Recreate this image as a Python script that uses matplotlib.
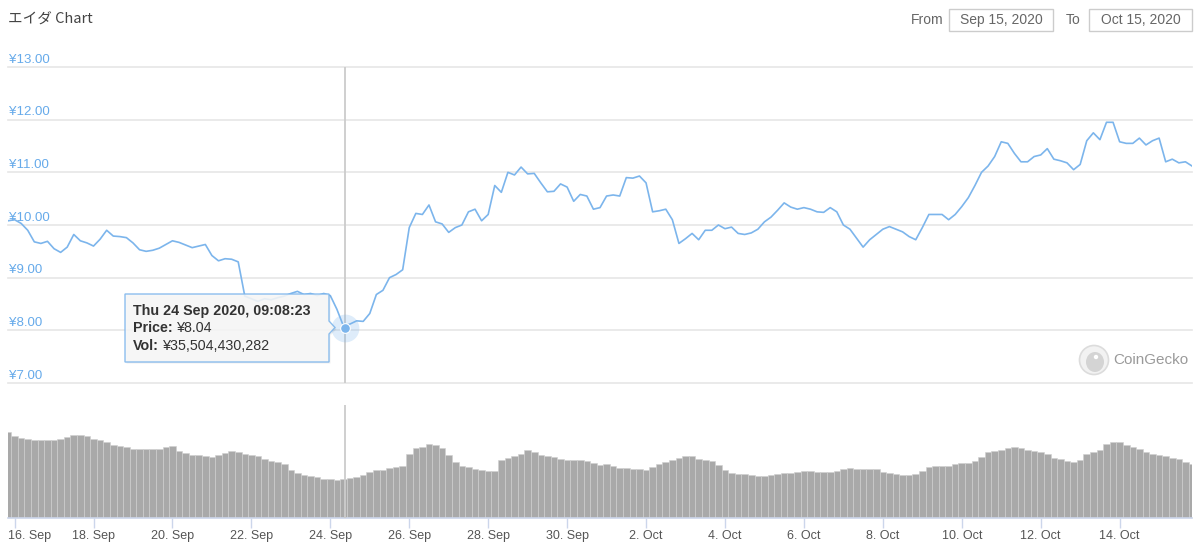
import matplotlib
matplotlib.use("Agg")
import matplotlib.pyplot as plt
import matplotlib.dates as mdates
import matplotlib.transforms as mtransforms
from matplotlib.patches import Polygon, Rectangle, Circle, Ellipse
import numpy as np
import pandas as pd

plt.rcParams['font.family'] = ['Liberation Sans', 'DejaVu Sans']

# 4-hourly samples, Sep 15 20:00 -> Oct 15 20:00
times = pd.date_range('2020-09-15 20:00', periods=181, freq='4h')

prices = [
    10.08, 10.10, 10.03, 9.90, 9.68, 9.65, 9.69, 9.55, 9.48, 9.58,
    9.82, 9.70, 9.66, 9.60, 9.73, 9.90, 9.79, 9.78, 9.76, 9.66,
    9.53, 9.50, 9.52, 9.56, 9.63, 9.70, 9.67, 9.62, 9.57, 9.60,
    9.63, 9.42, 9.32, 9.36, 9.35, 9.30, 8.65, 8.60, 8.55, 8.60,
    8.58, 8.62, 8.65, 8.70, 8.74, 8.68, 8.70, 8.66, 8.70, 8.66,
    8.40, 8.08, 8.12, 8.18, 8.17, 8.32, 8.68, 8.76, 9.00, 9.06,
    9.15, 9.95, 10.22, 10.20, 10.38, 10.06, 10.02, 9.86, 9.95, 10.00,
    10.25, 10.30, 10.08, 10.20, 10.75, 10.62, 11.00, 10.95, 11.10, 10.97,
    10.98, 10.80, 10.63, 10.64, 10.78, 10.72, 10.45, 10.58, 10.55, 10.30,
    10.33, 10.55, 10.57, 10.55, 10.90, 10.89, 10.93, 10.80, 10.25, 10.27,
    10.30, 10.10, 9.65, 9.74, 9.84, 9.72, 9.90, 9.90, 10.00, 9.93,
    9.96, 9.84, 9.82, 9.85, 9.92, 10.06, 10.15, 10.28, 10.42, 10.34,
    10.30, 10.33, 10.30, 10.25, 10.24, 10.33, 10.25, 10.00, 9.92, 9.75,
    9.58, 9.72, 9.82, 9.92, 9.97, 9.92, 9.87, 9.78, 9.72, 9.95,
    10.20, 10.20, 10.20, 10.10, 10.20, 10.35, 10.52, 10.75, 11.00, 11.12,
    11.30, 11.58, 11.55, 11.36, 11.20, 11.20, 11.30, 11.33, 11.45, 11.25,
    11.22, 11.18, 11.05, 11.15, 11.60, 11.75, 11.62, 11.95, 11.95, 11.58,
    11.55, 11.55, 11.65, 11.52, 11.60, 11.65, 11.20, 11.25, 11.18, 11.20,
    11.12,
]

# volume, billions of yen
volumes = [
    77.0, 73.5, 72.0, 71.5, 70.5, 70.5, 70.5, 70.0, 71.5, 73.0,
    75.0, 75.0, 73.5, 71.5, 70.5, 68.0, 66.0, 65.0, 63.5, 61.7,
    61.7, 61.7, 61.7, 61.7, 63.5, 64.5, 60.5, 58.5, 57.0, 56.5,
    55.5, 55.0, 56.5, 58.5, 60.0, 59.5, 58.0, 56.5, 55.5, 53.5,
    51.5, 50.0, 48.4, 43.0, 40.5, 39.0, 37.5, 36.5, 35.5, 35.0,
    34.6, 34.8, 35.8, 37.0, 38.5, 41.0, 43.5, 43.0, 45.0, 46.0,
    46.6, 57.5, 63.0, 64.3, 66.5, 66.0, 63.0, 56.5, 50.5, 47.0,
    45.5, 44.5, 43.5, 42.7, 42.0, 52.0, 54.0, 55.5, 58.0, 61.0,
    59.0, 57.0, 55.8, 55.0, 53.5, 52.1, 52.1, 52.1, 51.0, 49.5,
    47.5, 48.2, 46.5, 45.0, 44.7, 44.4, 43.8, 43.0, 45.5, 48.5,
    50.8, 52.3, 54.0, 56.0, 56.0, 53.5, 52.5, 51.5, 47.5, 43.5,
    40.8, 40.0, 39.2, 38.6, 37.8, 38.0, 39.0, 39.5, 40.2, 40.8,
    41.3, 41.9, 42.0, 41.7, 41.5, 41.8, 42.1, 44.0, 45.0, 44.3,
    43.9, 44.0, 44.2, 41.8, 40.4, 39.3, 38.5, 38.9, 39.3, 42.5,
    46.1, 46.5, 46.8, 47.2, 49.0, 49.8, 49.6, 51.5, 55.0, 59.6,
    60.6, 61.5, 63.3, 64.0, 62.8, 61.5, 60.5, 59.3, 57.9, 54.0,
    52.8, 51.6, 50.6, 52.0, 57.5, 59.5, 61.5, 66.5, 68.0, 68.0,
    66.0, 63.7, 61.7, 59.6, 57.5, 56.3, 55.4, 54.2, 52.8, 50.5,
    48.4,
]

price_ticks = [7, 8, 9, 10, 11, 12, 13]
price_labels = ['¥7.00', '¥8.00', '¥9.00', '¥10.00', '¥11.00', '¥12.00', '¥13.00']
date_ticks = pd.date_range('2020-09-16', '2020-10-14', freq='2D')
date_labels = [f"{d.day}. {d.strftime('%b')}" for d in date_ticks]

hover_time = pd.Timestamp('2020-09-24 09:08:23')
hover_price = 8.04
tip_lines = ['Thu 24 Sep 2020, 09:08:23', '¥8.04', '¥35,504,430,282']

W, H = 1200, 547
LINE = '#7cb5ec'


def fx(x):
    return x / W


def fy(y):
    return 1 - y / H


fig = plt.figure(figsize=(12, 5.47), dpi=100)
px = mtransforms.IdentityTransform()

# --- price panel ---
ax_p = fig.add_axes([fx(8), fy(383), (1192 - 8) / W, (383 - 67) / H])
ax_p.set_ylim(7, 13)
ax_p.set_xlim(times[0], times[-1])
for s in ax_p.spines.values():
    s.set_visible(False)
ax_p.set_xticks([])
ax_p.set_yticks([])
for v, lab in zip(price_ticks, price_labels):
    ax_p.axhline(v, color='#e6e6e6', lw=1.2, clip_on=False, zorder=0)
    ax_p.annotate(lab, xy=(0, v), xycoords=ax_p.get_yaxis_transform(),
                  xytext=(0.5, 1), textcoords='offset points',
                  ha='left', va='bottom', fontsize=9.5, color='#66aaea', zorder=1)

ax_p.axvline(hover_time, color='#cccccc', lw=1.3, zorder=1)
ax_p.plot(times, prices, color=LINE, lw=1.2, zorder=2)
ax_p.plot([hover_time], [hover_price], 'o', ms=20, color=LINE, alpha=0.25,
          mec='none', zorder=3, clip_on=False)
ax_p.plot([hover_time], [hover_price], 'o', ms=7, color=LINE, mec='white',
          mew=0.8, zorder=4, clip_on=False)

# --- volume panel ---
ax_v = fig.add_axes([fx(8), fy(518), (1192 - 8) / W, (518 - 405) / H])
ax_v.set_ylim(0, 101.7)
ax_v.set_xlim(times[0], times[-1])
ax_v.bar(times, volumes, width=4 / 24, color='#a9a9a9', edgecolor='#d0d0d0',
         linewidth=0.4, align='center', zorder=2)
ax_v.axvline(hover_time, color='#cccccc', lw=1.3, zorder=3)
for k in ['top', 'left', 'right']:
    ax_v.spines[k].set_visible(False)
ax_v.spines['bottom'].set_color('#ccd6eb')
ax_v.spines['bottom'].set_linewidth(1.2)
ax_v.set_yticks([])
ax_v.set_xticks(date_ticks)
ax_v.set_xticklabels(date_labels)
ax_v.tick_params(axis='x', direction='out', length=7, width=1, color='#ccd6eb',
                 labelsize=9, labelcolor='#555555', pad=1.5)
first = ax_v.get_xticklabels()[0]
first.set_ha('left')
first.set_transform(first.get_transform() +
                    mtransforms.ScaledTranslation(-7 / 100, 0, fig.dpi_scale_trans))

# --- header ---
fig.text(fx(8), fy(20), 'エイダ Chart', fontsize=10.5, color='#444444',
         ha='left', va='center', family=['Noto Sans CJK JP', 'DejaVu Sans'])
fig.text(fx(911), fy(19.5), 'From', fontsize=10, color='#666666', ha='left', va='center')
fig.text(fx(1066), fy(19.5), 'To', fontsize=10, color='#666666', ha='left', va='center')
for x0, x1, txt in [(949, 1053, 'Sep 15, 2020'), (1089, 1192, 'Oct 15, 2020')]:
    fig.patches.append(Rectangle((fx(x0), fy(31)), (x1 - x0) / W, 22 / H,
                                 transform=fig.transFigure, fill=False,
                                 edgecolor='#cccccc', lw=1))
    fig.text(fx((x0 + x1) / 2), fy(20), txt, fontsize=10, color='#666666',
             ha='center', va='center')

# --- tooltip ---
pts = [(125, 294), (329, 294), (329, 321), (335, 327.5), (329, 334),
       (329, 362), (125, 362)]
shadow = Polygon([(fx(x + 1.5), fy(y + 1.5)) for x, y in pts], closed=True,
                 transform=fig.transFigure, facecolor='#000000', alpha=0.06,
                 edgecolor='none', zorder=5)
tip = Polygon([(fx(x), fy(y)) for x, y in pts], closed=True,
              transform=fig.transFigure, facecolor='#f7f7f7', alpha=0.88,
              edgecolor=LINE, lw=1, zorder=6)
fig.patches.extend([shadow, tip])
fig.text(fx(133), fy(311), tip_lines[0], fontsize=10.3, weight='bold',
         color='#333333', va='center', ha='left', zorder=7)
fig.text(fx(133), fy(328), 'Price:', fontsize=10.3, weight='bold',
         color='#333333', va='center', ha='left', zorder=7)
fig.text(fx(177), fy(328), tip_lines[1], fontsize=10.3,
         color='#333333', va='center', ha='left', zorder=7)
fig.text(fx(133), fy(346), 'Vol:', fontsize=10.3, weight='bold',
         color='#333333', va='center', ha='left', zorder=7)
fig.text(fx(163), fy(346), tip_lines[2], fontsize=10.3,
         color='#333333', va='center', ha='left', zorder=7)

# --- watermark ---
cx, cy = 1094, H - 360
fig.patches.append(Circle((cx, cy), 14.5, transform=px, facecolor='#f2f2f2',
                          edgecolor='#dcdcdc', lw=1.2))
fig.patches.append(Ellipse((cx + 1, cy - 2), 18, 20, transform=px,
                           facecolor='#d4d4d4', edgecolor='none'))
fig.patches.append(Circle((cx + 2, cy + 3), 2.2, transform=px,
                          facecolor='white', edgecolor='none'))
fig.text(fx(1113), fy(360), 'CoinGecko', fontsize=11, color='#9a9a9a',
         ha='left', va='center')

fig.savefig('out.png', dpi=100, facecolor='white')
